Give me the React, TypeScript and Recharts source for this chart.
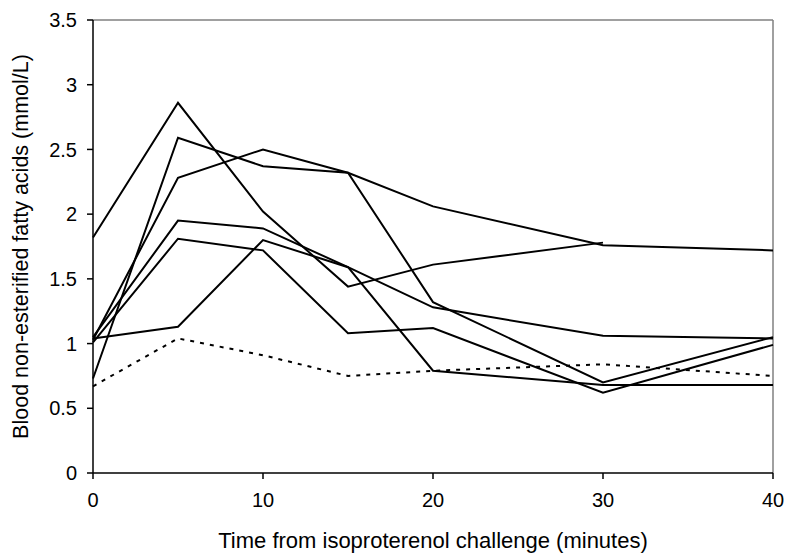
import { LineChart, Line, XAxis, YAxis, ReferenceLine } from 'recharts'

// minutes after the isoproterenol challenge
const minutes = [0, 5, 10, 15, 20, 30, 40]

// blood NEFA (mmol/L), one array per animal
const animalA = [1.82, 2.86, 2.02, 1.44, 1.61, 1.78, null]
const animalB = [0.73, 2.59, 2.37, 2.32, 1.32, 0.70, 1.05]
const animalC = [1.03, 2.28, 2.50, 2.32, 2.06, 1.76, 1.72]
const animalD = [1.05, 1.95, 1.89, 1.59, 1.28, 1.06, 1.04]
const animalE = [1.04, 1.13, 1.80, 1.59, 0.79, 0.68, 0.68]
const animalF = [1.01, 1.81, 1.72, 1.08, 1.12, 0.62, 0.99]
// dotted reference curve
const control = [0.67, 1.04, 0.91, 0.75, 0.79, 0.84, 0.75]

const xTicks = [0, 10, 20, 30, 40]
const yTicks = [0, 0.5, 1, 1.5, 2, 2.5, 3, 3.5]

const solidSeries = [
  { key: 'a', values: animalA },
  { key: 'b', values: animalB },
  { key: 'c', values: animalC },
  { key: 'd', values: animalD },
  { key: 'e', values: animalE },
  { key: 'f', values: animalF }
]

const chartData = minutes.map((t, i) => {
  const row: Record<string, number | null> = { t, control: control[i] }
  solidSeries.forEach(s => {
    row[s.key] = s.values[i]
  })
  return row
})

const font = '"Liberation Sans", Arial, sans-serif'

// plain svg text so the size is exactly what we ask for
const XTick = ({ x, y, payload }: any) => (
  <text x={x} y={y} dy="0.71em" textAnchor="middle" fill="#000" fontSize={20} fontFamily={font}>
    {String(payload.value)}
  </text>
)

const YTick = ({ x, y, payload }: any) => (
  <text x={x} y={y} dy="0.36em" textAnchor="end" fill="#000" fontSize={20} fontFamily={font}>
    {String(payload.value)}
  </text>
)

export default function App() {
  return (
    <div style={{ position: 'absolute', left: 0, top: 0, background: '#fff', fontFamily: font }}>
      <LineChart
        width={787}
        height={553}
        data={chartData}
        margin={{ top: 20, right: 14, left: 0, bottom: 0 }}
      >
        <XAxis
          dataKey="t"
          type="number"
          domain={[0, 40]}
          ticks={xTicks}
          height={80}
          stroke="#000"
          strokeWidth={1.5}
          tickSize={6}
          tickMargin={14}
          tick={<XTick />}
          label={{
            value: 'Time from isoproterenol challenge (minutes)',
            position: 'insideBottom',
            offset: 5,
            style: { fill: '#000', fontSize: 22, fontFamily: font }
          }}
        />
        <YAxis
          type="number"
          domain={[0, 3.5]}
          ticks={yTicks}
          width={93}
          stroke="#000"
          strokeWidth={1.5}
          tickSize={6}
          tickMargin={10}
          tick={<YTick />}
          label={{
            value: 'Blood non-esterified fatty acids (mmol/L)',
            angle: -90,
            position: 'insideLeft',
            offset: 20,
            style: { fill: '#000', fontSize: 21.5, fontFamily: font, textAnchor: 'middle' }
          }}
        />
        <ReferenceLine y={3.5} stroke="#808080" strokeWidth={1.5} />
        <ReferenceLine x={40} stroke="#808080" strokeWidth={1.5} />
        {solidSeries.map(s => (
          <Line
            key={s.key}
            dataKey={s.key}
            type="linear"
            stroke="#000"
            strokeWidth={2}
            dot={false}
            isAnimationActive={false}
          />
        ))}
        <Line
          dataKey="control"
          type="linear"
          stroke="#000"
          strokeWidth={2}
          strokeDasharray="4 6"
          dot={false}
          isAnimationActive={false}
        />
      </LineChart>
    </div>
  )
}
